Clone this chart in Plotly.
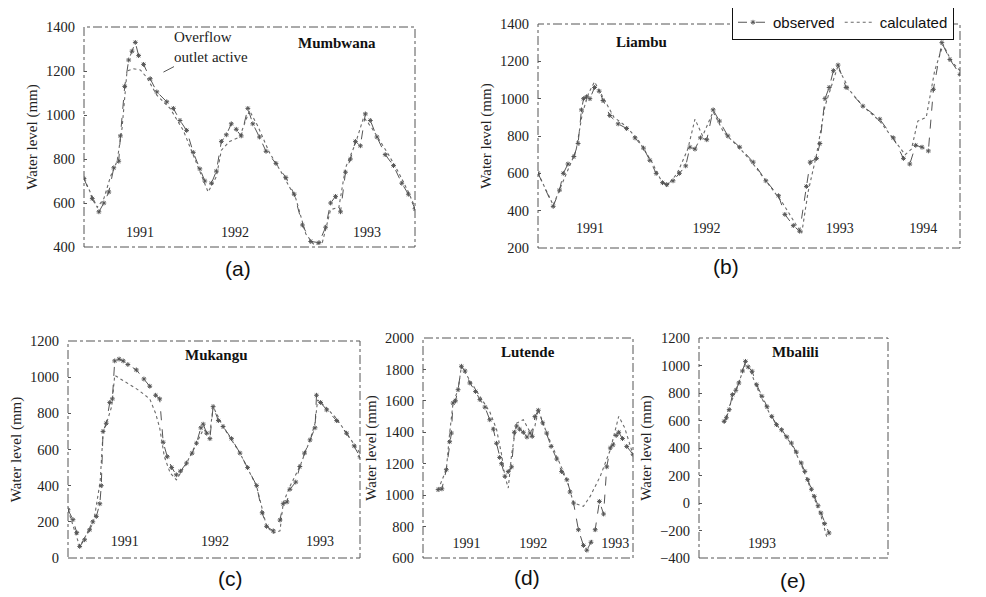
import plotly.graph_objects as go

# ---------------- data (time index 0-100 across each panel's record) ----------------
# (a) Mumbwana
t_obs_a = [0, 2.5, 4.5, 6, 7.5, 9, 10.5, 11, 12.3, 13.5,
           14.5, 15.5, 16.5, 18, 20, 22, 25, 27, 29, 31,
           33, 35, 36.5, 38.5, 40, 41.5, 43, 44.5, 46, 47.5,
           49.5, 51, 53, 55, 58, 61, 63.5, 66, 68.5, 71,
           73, 74.5, 76, 77.5, 79, 80.5, 82, 83.5, 85, 86.5,
           88.5, 91, 93.5, 96, 98, 100]
v_obs_a = [711, 620, 560, 600, 650, 760, 790, 905, 1130, 1250,
           1290, 1330, 1270, 1230, 1165, 1105, 1060, 1030, 975, 930,
           830, 755, 700, 690, 745, 880, 910, 960, 935, 905,
           1030, 960, 900, 835, 780, 715, 640, 500, 425, 420,
           490, 600, 630, 560, 740, 800, 880, 860, 1005, 975,
           900, 820, 770, 690, 640, 574]
t_cal_a = [0, 4, 6, 8, 10, 11.5, 13, 15, 17, 19,
           22, 26, 30, 33, 35.5, 37.5, 40, 41.5, 44, 47,
           50, 52.5, 56, 60, 64, 67, 69.5, 72, 74.5, 77,
           79, 82, 84.5, 87, 89.5, 92, 95, 98, 100]
v_cal_a = [711, 580, 620, 720, 790, 940, 1200, 1210, 1205, 1170,
           1090, 1030, 930, 820, 720, 650, 720, 840, 880, 900,
           1020, 950, 830, 730, 620, 460, 410, 420, 570, 580,
           760, 870, 990, 940, 880, 820, 740, 650, 580]
years_a = ["1991", "1992", "1993"]
year_pos_a = [16.9, 45.6, 85.5]

# (b) Liambu
t_obs_b = [0, 3.6, 5.1, 6, 7.1, 8.5, 9.5, 10.3, 10.8, 11.5,
           12.3, 13.4, 14.5, 15.4, 17, 19, 21, 23, 25, 26.5,
           28, 29.5, 30.5, 32, 33.5, 35, 36, 37.2, 38.5, 40,
           41.5, 43, 45, 47.8, 51, 54, 57, 58.5, 60.5, 62,
           63.6, 64.5, 66, 66.8, 68, 69, 70, 71.1, 73, 77,
           81, 84.2, 86.6, 88.1, 89.5, 91, 92.5, 93.7, 95.7, 97.6,
           100]
v_obs_b = [601, 423, 510, 600, 650, 690, 760, 940, 1000, 1010,
           1000, 1060, 1040, 990, 910, 865, 840, 790, 735, 670,
           600, 550, 540, 560, 600, 640, 740, 730, 790, 780,
           940, 880, 800, 740, 660, 560, 480, 380, 320, 290,
           530, 660, 680, 760, 1000, 1060, 1150, 1180, 1060, 960,
           890, 790, 680, 650, 750, 740, 720, 1050, 1300, 1210,
           1130]
t_cal_b = [0, 3.6, 6, 9, 10.5, 12, 13.4, 15.5, 18, 21,
           24, 27, 29, 30.5, 33, 35.5, 37.2, 39, 41.5, 44,
           48, 51, 55, 58, 61, 62.5, 64, 66, 68, 71,
           74, 77, 81, 84, 87, 88.5, 90, 92, 94, 96,
           98, 100]
v_cal_b = [601, 430, 560, 720, 920, 1030, 1090, 1000, 900, 850,
           770, 660, 570, 530, 600, 730, 890, 800, 930, 820,
           730, 650, 530, 440, 330, 280, 500, 700, 960, 1170,
           1040, 960, 880, 790, 700, 730, 880, 900, 1150, 1290,
           1200, 1150]
years_b = ["1991", "1992", "1993", "1994"]
year_pos_b = [12.3, 39.9, 71.5, 91.3]

# (c) Mukangu
t_obs_c = [0, 1.7, 3, 4, 5.7, 7.4, 8.5, 9.7, 10.9, 11.4,
           12, 13.1, 14.3, 15.2, 16, 17.5, 18.9, 20.5, 23.4, 26,
           28, 30, 31.4, 32.6, 34, 35.5, 37.1, 38.5, 40.6, 42.5,
           44, 45.5, 46.3, 47.5, 48.6, 49.7, 51.5, 53.1, 56, 58.9,
           61.5, 64.6, 66.5, 68, 70.3, 72.6, 73.7, 75, 76, 78,
           79.4, 81, 82.9, 84.6, 85.1, 86.5, 88.6, 92, 95.4, 98,
           100]
v_obs_c = [267, 212, 140, 64, 101, 156, 200, 230, 300, 400,
           700, 745, 860, 880, 1090, 1100, 1090, 1070, 1040, 990,
           950, 900, 880, 640, 560, 500, 460, 480, 525, 580,
           635, 720, 740, 690, 660, 837, 760, 727, 660, 580,
           500, 400, 250, 175, 150, 210, 300, 310, 380, 420,
           506, 580, 653, 720, 900, 860, 819, 760, 690, 620,
           560]
t_cal_c = [0, 4, 6, 9, 11, 12, 13.1, 15, 16, 20,
           24, 28, 30, 31.4, 33, 35, 37.1, 40.6, 44, 46.3,
           48.6, 49.7, 53.1, 58.9, 64.6, 68, 70.3, 72.6, 73.7, 76,
           79.4, 82.9, 84.6, 85.5, 88.6, 92, 95.4, 100]
v_cal_c = [267, 64, 120, 220, 420, 690, 740, 840, 1010, 970,
           930, 880, 800, 720, 560, 470, 432, 525, 635, 709,
           690, 837, 727, 580, 396, 175, 138, 150, 304, 396,
           506, 653, 745, 874, 830, 770, 690, 580]
years_c = ["1991", "1992", "1993"]
year_pos_c = [19.4, 50.3, 86.3]

# (d) Lutende
t_obs_d = [7.2, 9, 11.1, 12.7, 13.5, 14.3, 15.5, 16.7, 18.3, 20,
           22.3, 25, 27.1, 29.5, 31.8, 33.5, 35, 36.5, 37.4, 39,
           40.6, 42.2, 43.5, 44.6, 46, 47.8, 49.5, 51, 52, 53.3,
           54.9, 57, 58.9, 61, 63.7, 66, 68.5, 70, 71.7, 74,
           76.4, 78, 80, 82, 84, 86, 87.5, 89.2, 90.5, 92,
           93.2, 95, 97, 100]
v_obs_d = [1035, 1040, 1162, 1340, 1395, 1586, 1600, 1671, 1820, 1790,
           1714, 1660, 1608, 1560, 1480, 1420, 1330, 1240, 1200, 1120,
           1150, 1180, 1400, 1440, 1420, 1400, 1370, 1395, 1374, 1500,
           1540, 1460, 1395, 1310, 1230, 1150, 1098, 1020, 950, 780,
           680, 650, 700, 780, 960, 880, 1180, 1300, 1320, 1380,
           1400, 1360, 1310, 1260]
t_cal_d = [7.2, 11.1, 12.7, 14.3, 16.7, 18.3, 22.3, 27.1, 31.8, 35,
           37.4, 39, 40.6, 42.2, 44.6, 47.8, 51, 53.3, 54.9, 58.9,
           63.7, 68.5, 71.7, 76.4, 79.6, 84.4, 89.2, 93.2, 96, 100]
v_cal_d = [1035, 1162, 1395, 1586, 1671, 1820, 1730, 1630, 1530, 1420,
           1260, 1120, 1045, 1260, 1459, 1480, 1400, 1440, 1544, 1395,
           1247, 1098, 950, 929, 992, 1120, 1289, 1501, 1430, 1258]
years_d = ["1991", "1992", "1993"]
year_pos_d = [20.7, 52.5, 91.6]

# (e) Mbalili
t_obs_e = [13.3, 14.5, 16, 17.7, 19.5, 21.1, 23, 24.6, 26, 28.1,
           30.5, 33.3, 36, 38.5, 41, 43.7, 46.5, 48.9, 51.5, 54.1,
           56, 57.5, 59.5, 61, 63, 64.5, 66.5, 68.8]
v_obs_e = [594, 620, 679, 788, 820, 873, 960, 1030, 990, 958,
           860, 776, 700, 630, 570, 533, 480, 436, 370, 291,
           230, 170, 100, 48, -20, -73, -150, -218]
t_cal_e = [13.3, 16, 19, 21.1, 24.6, 27, 30, 33.3, 38.5, 43.7,
           48.9, 54.1, 57.5, 61, 64.5, 68]
v_cal_e = [580, 700, 800, 880, 1010, 970, 860, 760, 620, 520,
           430, 280, 160, 40, -90, -267]
years_e = ["1993"]
year_pos_e = [33.3]

stations = ["Mumbwana", "Liambu", "Mukangu", "Lutende", "Mbalili"]
panel_labels = ["(a)", "(b)", "(c)", "(d)", "(e)"]
y_ranges = [[400, 1400], [200, 1400], [0, 1200], [600, 2000], [-400, 1200]]

# ---------------- layout geometry (screen pixels; page body adds an 8px offset) ----------------
W, H = 986, 597
OFF = 8
boxes = [  # left, right, top, bottom
    (84, 415, 27, 247),
    (538, 960, 24, 248),
    (68, 360, 341, 558),
    (423, 633, 338, 558),
    (699, 888, 338, 558),
]
year_shift = [-25, -30, -27, -25, -25]
title_pos = [(0.764, 0.925), (0.246, 0.92), (0.51, 0.935), (0.5, 0.935), (0.508, 0.935)]
label_pos = [(238, 268), (726, 267), (230, 578), (527, 577), (793, 580)]


def fx(px):
    return (px - OFF) / W


def fy(py):
    return 1 - (py - OFF) / H


data = [
    (t_obs_a, v_obs_a, t_cal_a, v_cal_a, years_a, year_pos_a),
    (t_obs_b, v_obs_b, t_cal_b, v_cal_b, years_b, year_pos_b),
    (t_obs_c, v_obs_c, t_cal_c, v_cal_c, years_c, year_pos_c),
    (t_obs_d, v_obs_d, t_cal_d, v_cal_d, years_d, year_pos_d),
    (t_obs_e, v_obs_e, t_cal_e, v_cal_e, years_e, year_pos_e),
]

SERIF = "Liberation Serif, Times New Roman, serif"
SANS = "Liberation Sans, Arial, sans-serif"

fig = go.Figure()
layout = {}
annotations = []
shapes = []

for i, (to, vo, tc, vc, yrs, ypos) in enumerate(data):
    n = "" if i == 0 else str(i + 1)
    xa, ya = "x" + n, "y" + n
    l, r, t, b = boxes[i]
    fig.add_trace(go.Scatter(
        x=tc, y=vc, xaxis=xa, yaxis=ya, mode="lines", name="calculated",
        line=dict(color="#6a6a6a", width=1.1, dash="dot"),
        showlegend=(i == 1), legendrank=2))
    fig.add_trace(go.Scatter(
        x=to, y=vo, xaxis=xa, yaxis=ya, mode="lines+markers", name="observed",
        line=dict(color="#555555", width=1, dash="dash"),
        marker=dict(symbol="asterisk-open", size=4, color="#555555",
                    line=dict(width=1, color="#555555")),
        showlegend=(i == 1), legendrank=1))

    layout["xaxis" + n] = dict(
        domain=[fx(l), fx(r)], range=[0, 100], anchor=ya,
        tickmode="array", tickvals=ypos, ticktext=yrs,
        ticks="", ticklabelposition="outside", ticklabelstandoff=year_shift[i],
        showgrid=False, zeroline=False, showline=False,
        tickfont=dict(family=SERIF, size=14, color="#222"))
    yr = y_ranges[i]
    layout["yaxis" + n] = dict(
        domain=[fy(b), fy(t)], range=yr, anchor=xa,
        dtick=200, tick0=0, ticks="inside", ticklen=3, tickcolor="#555",
        ticklabelstandoff=8,
        showgrid=False, zeroline=False, showline=False,
        tickfont=dict(family=SERIF, size=14.5, color="#222"),
        title=dict(text="Water level (mm)", font=dict(family=SERIF, size=15, color="#222"), standoff=4))
    shapes.append(dict(type="rect", xref=xa + " domain", yref=ya + " domain",
                       x0=0, x1=1, y0=0, y1=1,
                       line=dict(color="#555555", width=1, dash="dashdot")))
    tx, ty = title_pos[i]
    annotations.append(dict(text="<b>%s</b>" % stations[i], xref=xa + " domain", yref=ya + " domain",
                            x=tx, y=ty, xanchor="center", yanchor="middle", showarrow=False,
                            font=dict(family=SERIF, size=15, color="#111")))
    px, py = label_pos[i]
    annotations.append(dict(text=panel_labels[i], xref="paper", yref="paper",
                            x=fx(px), y=fy(py), xanchor="center", yanchor="middle",
                            showarrow=False,
                            font=dict(family=SANS, size=21, color="#111")))

annotations.append(dict(text="Overflow<br>outlet active", xref="x", yref="y",
                        x=24, y=1195, ax=48, ay=-25, showarrow=True, arrowhead=0,
                        arrowwidth=1, arrowcolor="#555", align="left",
                        font=dict(family=SERIF, size=15, color="#222")))

fig.update_layout(
    **layout,
    width=W, height=H,
    margin=dict(l=0, r=0, t=0, b=0, autoexpand=False),
    paper_bgcolor="white", plot_bgcolor="white",
    shapes=shapes, annotations=annotations,
    legend=dict(x=fx(732), y=fy(5), xanchor="left", yanchor="top",
                orientation="h", bordercolor="#111", borderwidth=1, bgcolor="white",
                font=dict(family=SANS, size=15, color="#111"),
                itemwidth=30, tracegroupgap=0),
)

fig.write_html("out.html")
